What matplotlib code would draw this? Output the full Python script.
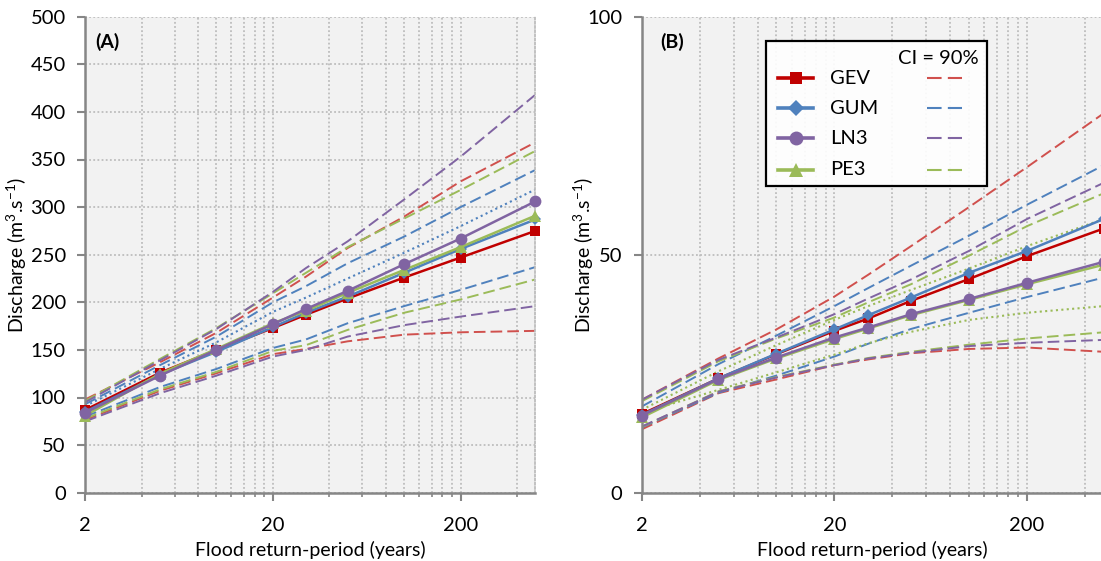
import matplotlib
matplotlib.use("Agg")
import matplotlib.pyplot as plt
import numpy as np
from matplotlib.lines import Line2D
from matplotlib.patches import Rectangle
from matplotlib.ticker import FixedLocator, NullFormatter

plt.rcParams["font.family"] = ["Lato", "DejaVu Sans"]
plt.rcParams["mathtext.default"] = "regular"

# ---------------------------------------------------------------- data
return_period = [2, 5, 10, 20, 30, 50, 100, 200, 500]

# Panel (A)
a_gev = [87, 126, 150, 173, 187, 204, 226, 247, 275]
a_gum = [85, 124, 148, 174, 189, 206, 231, 256, 287]
a_ln3 = [84, 123, 150, 177, 193, 212, 240, 267, 306]
a_pe3 = [81, 125, 151, 178, 191, 210, 234, 258, 291]

a_gev_up = [98, 137, 168, 205, 227, 257, 290, 327, 368]
a_gev_lo = [76.5, 107, 125.5, 145.5, 151, 159, 166, 168.5, 170]
a_gum_up = [93, 134, 164, 200, 217, 241, 269, 300, 339]
a_gum_lo = [80, 111, 130, 152, 161, 178, 196, 213, 237]
a_ln3_up = [95, 139, 172, 211, 236, 264, 308, 353, 418]
a_ln3_lo = [75, 104.5, 123, 143, 150, 164, 176, 185, 196]
a_pe3_up = [96.5, 140.5, 173, 209.5, 231, 258, 288, 318, 359]
a_pe3_lo = [78, 108.5, 127, 149, 155, 171, 189, 203, 224]
a_gum_dot = [91, 130, 158, 190, 205, 225, 252, 280, 318.5]

# Panel (B)
b_gev = [16.5, 24.0, 29.1, 34.0, 36.6, 40.3, 44.9, 49.7, 55.5]
b_gum = [16.3, 24.0, 29.2, 34.3, 37.3, 41.0, 46.2, 50.8, 57.5]
b_ln3 = [16.2, 23.9, 28.4, 32.6, 34.7, 37.5, 40.7, 44.1, 48.5]
b_pe3 = [15.8, 23.7, 28.2, 32.3, 34.5, 37.3, 40.5, 43.8, 47.9]

b_gev_up = [19.5, 28.2, 34.3, 41.2, 45.8, 51.8, 60.0, 68.4, 79.7]
b_gev_lo = [13.3, 20.9, 23.8, 26.8, 28.0, 29.3, 30.2, 30.5, 29.6]
b_gum_up = [18.1, 27.0, 33.0, 39.2, 43.0, 47.7, 54.0, 60.5, 68.8]
b_gum_lo = [13.7, 21.0, 24.6, 28.6, 31.3, 34.4, 37.8, 41.1, 45.2]
b_ln3_up = [19.5, 27.9, 32.6, 37.5, 40.8, 44.8, 50.8, 57.5, 65.1]
b_ln3_lo = [13.9, 21.2, 24.2, 26.8, 28.2, 29.4, 30.8, 31.5, 32.1]
b_pe3_up = [19.2, 27.6, 32.4, 36.8, 40.0, 43.8, 49.8, 56.0, 62.9]
b_pe3_lo = [13.8, 21.3, 24.3, 26.9, 28.3, 29.6, 31.1, 32.4, 33.7]
b_pe3_dot_up = [17.4, 25.5, 31.0, 36.3, 39.2, 42.6, 47.1, 51.8, 57.5]
b_pe3_dot_lo = [16.8, 21.6, 25.3, 29.0, 31.4, 33.8, 36.3, 37.8, 39.2]

names = ["GEV", "GUM", "LN3", "PE3"]
solid_colors = {"GEV": "#C00000", "GUM": "#4F81BD", "LN3": "#8064A2", "PE3": "#9BBB59"}
dash_colors = {"GEV": "#D0504D", "GUM": "#4F81BD", "LN3": "#8064A2", "PE3": "#9BBB59"}
markers = {"GEV": ("s", 7.5), "GUM": ("D", 6.5), "LN3": ("o", 8.5), "PE3": ("^", 8.5)}

DASH = (0, (6, 2.6))
DOT = (0, (1, 1.6))
GRID = dict(color="#BDBDBD", linestyle=(0, (1, 1.3)), linewidth=1.3)
TICK_FS = 14.5
LABEL_FS = 14

# ---------------------------------------------------------------- figure
W, H = 1101, 561
fig = plt.figure(figsize=(W / 100, H / 100), dpi=100)
axA = fig.add_axes([85.3 / W, (H - 492.7) / H, 450 / W, 476 / H])
axB = fig.add_axes([641.7 / W, (H - 492.7) / H, 462 / W, 476 / H])


def style_axis(ax, ymax, ystep):
    ax.set_xscale("log")
    ax.set_xlim(2, 500)
    ax.set_ylim(0, ymax)
    ax.set_facecolor("#F2F2F2")
    ax.set_axisbelow(True)
    major = [2, 20, 200]
    minor = [2 * k * 10 ** n for n in range(3) for k in range(2, 10) if 2 * k * 10 ** n < 500]
    ax.xaxis.set_major_locator(FixedLocator(major))
    ax.xaxis.set_minor_locator(FixedLocator(minor))
    ax.xaxis.set_minor_formatter(NullFormatter())
    ax.set_xticklabels([str(m) for m in major])
    ax.set_yticks(np.arange(0, ymax + 1, ystep))
    ax.yaxis.set_minor_locator(FixedLocator([]))
    ax.grid(which="both", axis="x", **GRID)
    ax.grid(which="major", axis="y", **GRID)
    ax.spines["top"].set_visible(False)
    ax.spines["right"].set_color("#BDBDBD")
    ax.spines["right"].set_linestyle((0, (1, 1.3)))
    ax.spines["right"].set_linewidth(1.3)
    for side in ("left", "bottom"):
        ax.spines[side].set_color("#868686")
        ax.spines[side].set_linewidth(1.8)
    ax.tick_params(which="major", direction="out", length=5.5, width=1.5,
                   color="#868686", labelsize=TICK_FS, labelcolor="black")
    ax.tick_params(axis="x", which="major", pad=12)
    ax.tick_params(axis="y", which="major", pad=8.5)
    ax.tick_params(which="minor", direction="out", length=3.2, width=1.2, color="#868686")
    ax.set_xlabel("Flood return-period (years)", fontsize=LABEL_FS)
    ax.xaxis.set_label_coords(0.5, -0.102)
    ax.set_ylabel("Discharge (m$^{3}$.s$^{-1}$)", fontsize=LABEL_FS)


def draw_panel(ax, mains, bounds, extra):
    for dash_series, color in bounds:
        ax.plot(return_period, dash_series, color=color, linestyle=DASH, lw=1.4, zorder=2)
    for series, color in extra:
        ax.plot(return_period, series, color=color, linestyle=DOT, lw=1.5, zorder=2)
    for name in ["GEV", "GUM", "PE3", "LN3"]:
        m, ms = markers[name]
        ax.plot(return_period, mains[name], color=solid_colors[name], lw=1.8,
                marker=m, markersize=ms, markeredgewidth=0, zorder=3, clip_on=False)


style_axis(axA, 500, 50)
draw_panel(
    axA,
    {"GEV": a_gev, "GUM": a_gum, "LN3": a_ln3, "PE3": a_pe3},
    [(a_gev_up, dash_colors["GEV"]), (a_gev_lo, dash_colors["GEV"]),
     (a_gum_up, dash_colors["GUM"]), (a_gum_lo, dash_colors["GUM"]),
     (a_pe3_up, dash_colors["PE3"]), (a_pe3_lo, dash_colors["PE3"]),
     (a_ln3_up, dash_colors["LN3"]), (a_ln3_lo, dash_colors["LN3"])],
    [(a_gum_dot, solid_colors["GUM"])],
)
axA.yaxis.set_label_coords(-0.125, 0.5)
axA.text(0.022, 0.947, "(A)", transform=axA.transAxes, fontsize=14,
         fontweight="bold", va="center", ha="left")

style_axis(axB, 100, 50)
draw_panel(
    axB,
    {"GEV": b_gev, "GUM": b_gum, "LN3": b_ln3, "PE3": b_pe3},
    [(b_gev_up, dash_colors["GEV"]), (b_gev_lo, dash_colors["GEV"]),
     (b_gum_up, dash_colors["GUM"]), (b_gum_lo, dash_colors["GUM"]),
     (b_pe3_up, dash_colors["PE3"]), (b_pe3_lo, dash_colors["PE3"]),
     (b_ln3_up, dash_colors["LN3"]), (b_ln3_lo, dash_colors["LN3"])],
    [(b_pe3_dot_up, solid_colors["PE3"]), (b_pe3_dot_lo, solid_colors["PE3"])],
)
axB.yaxis.set_label_coords(-0.1, 0.5)
axB.text(0.04, 0.947, "(B)", transform=axB.transAxes, fontsize=14,
         fontweight="bold", va="center", ha="left")

# ---------------------------------------------------------------- legend box
tr = axB.transAxes
box = Rectangle((0.2685, 0.645), 0.747 - 0.2685, 0.9496 - 0.645, transform=tr,
                facecolor=(1, 1, 1, 0.9), edgecolor="black", lw=1.6, zorder=10)
axB.add_patch(box)
axB.text(0.730, 0.912, "CI = 90%", transform=tr, fontsize=TICK_FS, ha="right",
         va="center", zorder=11)
rows = [0.871, 0.808, 0.745, 0.678]
for name, yrow in zip(names, rows):
    m, ms = markers[name]
    axB.add_line(Line2D([0.295, 0.333, 0.371], [yrow, yrow, yrow], transform=tr,
                        color=solid_colors[name], lw=2.6, marker=m, markersize=ms + 1.5,
                        markevery=[1], markeredgewidth=0, zorder=11))
    axB.text(0.4077, yrow, name, transform=tr, fontsize=TICK_FS, ha="left",
             va="center", zorder=11)
    axB.add_line(Line2D([0.617, 0.693], [yrow, yrow], transform=tr,
                        color=dash_colors[name], lw=1.5, linestyle=(0, (7, 3)),
                        zorder=11))

fig.savefig("out.png", dpi=100, facecolor="white")
